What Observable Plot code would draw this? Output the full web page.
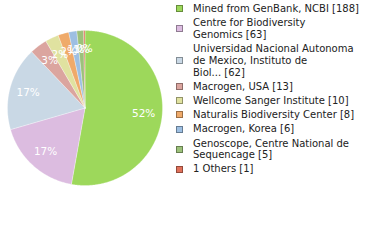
<!DOCTYPE html>
<html>
<head>
<meta charset="utf-8">
<script src="https://cdn.jsdelivr.net/npm/d3@7"></script>
<script src="https://cdn.jsdelivr.net/npm/@observablehq/plot@0.6"></script>
<style>
  html, body { margin: 0; padding: 0; background: #fff; }
  #wrap { position: relative; width: 380px; height: 240px; overflow: hidden; font-family: "DejaVu Sans", sans-serif; }
  #chart { position: absolute; left: 0; top: 0; }
  #legend { position: absolute; left: 176px; top: 3px; font-size: 10px; color: #222; }
  .item { display: flex; align-items: center; margin-bottom: 2.5px; }
  .sw { width: 5px; height: 5px; border: 1px solid; margin-right: 10px; flex: none; }
  .txt { line-height: 11.7px; white-space: nowrap; }
</style>
</head>
<body>
<div id="wrap"><div id="chart"></div><div id="legend"></div></div>
<script>
const names = [
  "Mined from GenBank, NCBI",
  "Centre for Biodiversity\nGenomics",
  "Universidad Nacional Autonoma\nde Mexico, Instituto de\nBiol...",
  "Macrogen, USA",
  "Wellcome Sanger Institute",
  "Naturalis Biodiversity Center",
  "Macrogen, Korea",
  "Genoscope, Centre National de\nSequencage",
  "1 Others"
];
const counts = [188, 63, 62, 13, 10, 8, 6, 5, 1];
const colors = ["#9dd85b", "#dcbce0", "#c9d8e5", "#dba59f", "#e0e2a0", "#efaa6a", "#9dbfe2", "#9cc17a", "#e0715a"];

const total = d3.sum(counts);
const arcs = d3.pie().sort(null).value(d => d)(counts);

const pts = [];
arcs.forEach((p, i) => {
  const n = Math.max(2, Math.ceil((p.endAngle - p.startAngle) / 0.01));
  pts.push({k: names[i], x: 0, y: 0});
  for (let j = 0; j <= n; j++) {
    const a = p.startAngle + (p.endAngle - p.startAngle) * j / n;
    pts.push({k: names[i], x: Math.sin(a), y: Math.cos(a)});
  }
  pts.push({k: names[i], x: 0, y: 0});
});

const labels = arcs.map((p, i) => {
  const m = (p.startAngle + p.endAngle) / 2;
  return {x: 0.76 * Math.sin(m), y: 0.76 * Math.cos(m), t: Math.floor(counts[i] / total * 100) + "%"};
});

const chart = Plot.plot({
  width: 170, height: 240,
  marginLeft: 7, marginRight: 8, marginTop: 30, marginBottom: 55,
  x: {domain: [-1, 1], axis: null},
  y: {domain: [-1, 1], axis: null},
  color: {domain: names, range: colors},
  style: {fontFamily: "DejaVu Sans, sans-serif", background: "transparent"},
  marks: [
    Plot.line(pts, {x: "x", y: "y", z: "k", fill: "k", stroke: "white", strokeWidth: 0.3, curve: "linear"}),
    Plot.text(labels, {x: "x", y: "y", text: "t", fill: "white", fontSize: 10.5})
  ]
});
document.getElementById("chart").appendChild(chart);

const leg = document.getElementById("legend");
names.forEach((nm, i) => {
  const it = document.createElement("div");
  it.className = "item";
  const sw = document.createElement("div");
  sw.className = "sw";
  sw.style.background = colors[i];
  sw.style.borderColor = d3.color(colors[i]).darker(1.2).formatHex();
  const tx = document.createElement("div");
  tx.className = "txt";
  const lines = (nm + " [" + counts[i] + "]").split("\n");
  lines.forEach((l, j) => {
    if (j) tx.appendChild(document.createElement("br"));
    tx.appendChild(document.createTextNode(l));
  });
  it.appendChild(sw); it.appendChild(tx);
  leg.appendChild(it);
});
</script>
</body>
</html>
